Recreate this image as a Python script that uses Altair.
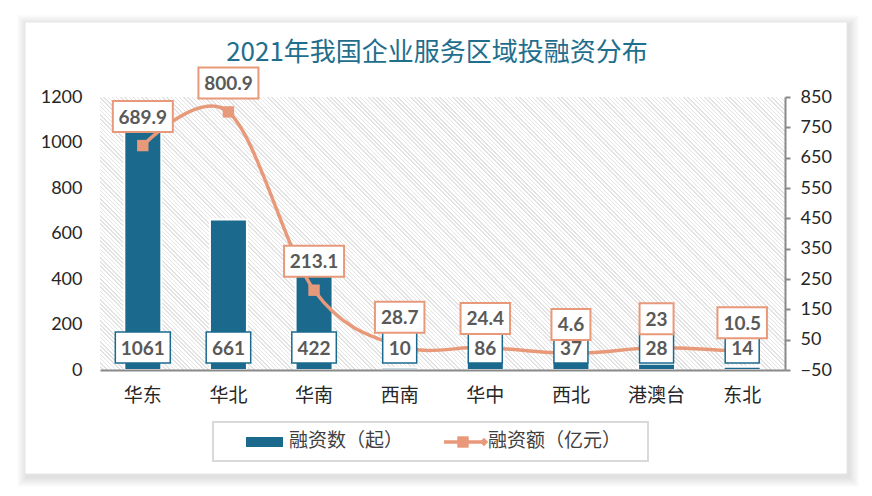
import altair as alt
import pandas as pd

# ---- data ----
regions = ["华东", "华北", "华南", "西南", "华中", "西北", "港澳台", "东北"]
deal_counts = [1061, 661, 422, 10, 86, 37, 28, 14]
deal_amounts = [689.9, 800.9, 213.1, 28.7, 24.4, 4.6, 23, 10.5]
left_ticks = [0, 200, 400, 600, 800, 1000, 1200]
right_ticks = [-50, 50, 150, 250, 350, 450, 550, 650, 750, 850]
title_text = "2021年我国企业服务区域投融资分布"
legend_bar = "融资数（起）"
legend_line = "融资额（亿元）"

BAR = "#1b6a8e"
LINE = "#e8997a"
TXT = "#595959"
W, H = 685, 273


def fmt(v):
    return f"{v:g}"


def box_shape(label, h=31):
    d = sum(ch.isdigit() for ch in label)
    dots = label.count(".")
    w = 10.5 * d + 5 * dots + 13
    return f"M{-w/2},{-h/2}L{w/2},{-h/2}L{w/2},{h/2}L{-w/2},{h/2}Z"


df = pd.DataFrame({
    "region": regions,
    "count": deal_counts,
    "amount": deal_amounts,
})
df["count_lbl"] = [str(v) for v in deal_counts]
df["amount_lbl"] = [fmt(v) for v in deal_amounts]
df["count_box"] = [box_shape(s) for s in df["count_lbl"]]
df["amount_box"] = [box_shape(s) for s in df["amount_lbl"]]

base = alt.Chart(df)
x_axis = alt.Axis(title=None, labelAngle=0, ticks=False,
                  domainColor="#898989", domainWidth=2,
                  labelFont="Noto Sans CJK SC", labelFontSize=19,
                  labelColor="#262626", labelPadding=16, zindex=1)
xenc = alt.X("region:N", sort=regions,
             scale=alt.Scale(paddingInner=0, paddingOuter=0), axis=x_axis)

# ---- decoration: card with soft shadow ----
deco = []
one = pd.DataFrame({"a": [0]})
for i in range(10, 0, -1):
    deco.append(
        alt.Chart(one).mark_rect(color="black", opacity=0.013).encode(
            x=alt.value(-75 - i + 2), x2=alt.value(747 + i + 2),
            y=alt.value(-75 - i + 3), y2=alt.value(377 + i + 3)))
deco.append(
    alt.Chart(one).mark_rect(color="white", stroke="#e6e6e6", strokeWidth=1).encode(
        x=alt.value(-75), x2=alt.value(747), y=alt.value(-75), y2=alt.value(377)))

# hatch pattern of the plot area (diagonal stripes via a striped gradient)
n = 228
stops = []
for i in range(n):
    o = i / n
    stops += [
        alt.GradientStop(offset=o, color="white"),
        alt.GradientStop(offset=o + 0.65 / n, color="white"),
        alt.GradientStop(offset=o + 0.65 / n, color="#e3e3e3"),
        alt.GradientStop(offset=min(1, o + 1.0 / n), color="#e3e3e3"),
    ]
k = (W + H) / (W * W + H * H)
hatch = alt.Chart(one).mark_rect(
    color=alt.LinearGradient(gradient="linear", stops=stops,
                             x1=0, y1=1, x2=W * k, y2=1 - H * k)
).encode(x=alt.value(0), x2=alt.value(W), y=alt.value(0), y2=alt.value(H))

# ---- bars (left axis) ----
bars = base.mark_bar(width=37, color=BAR, stroke="white", strokeWidth=2).encode(
    x=xenc,
    y=alt.Y("count:Q", scale=alt.Scale(domain=[0, 1200], nice=False),
            axis=alt.Axis(title=None, orient="left", values=left_ticks, format="d",
                          domain=False, ticks=False, grid=False,
                          labelFont="Lato", labelFontSize=18, labelColor="#262626",
                          labelPadding=18, zindex=1)),
)

# ---- line (right axis) and labels ----
yR = alt.Y("amount:Q", scale=alt.Scale(domain=[-50, 850], nice=False),
           axis=alt.Axis(title=None, orient="right", values=right_ticks, format="d",
                         domainColor="#898989", domainWidth=2,
                         tickColor="#898989", tickWidth=2, tickSize=5,
                         grid=False, labelFont="Lato", labelFontSize=18,
                         labelColor="#262626", labelPadding=10, zindex=1))

line = base.mark_line(color=LINE, strokeWidth=3.5, interpolate="cardinal").encode(x=xenc, y=yR)
pts = base.mark_point(shape="square", filled=True, color=LINE, size=130, opacity=1).encode(x=xenc, y=yR)

bar_boxes = base.mark_point(size=4, fill="white", fillOpacity=1, stroke=BAR,
                            strokeWidth=1.5, opacity=1).encode(
    x=xenc, y=alt.value(250.5), shape=alt.Shape("count_box:N", scale=None, legend=None))
bar_txt = base.mark_text(font="Lato", fontWeight="bold", fontSize=19, color=TXT,
                         baseline="middle").encode(
    x=xenc, y=alt.value(251.5), text="count_lbl:N")

line_boxes = base.mark_point(size=4, fill="white", fillOpacity=1, stroke=LINE,
                             strokeWidth=2, opacity=1, yOffset=-29).encode(
    x=xenc, y=yR, shape=alt.Shape("amount_box:N", scale=None, legend=None))
line_txt = base.mark_text(font="Lato", fontWeight="bold", fontSize=19, color=TXT,
                          baseline="middle", dy=-28).encode(
    x=xenc, y=yR, text="amount_lbl:N")

right = alt.layer(line, pts, bar_boxes, bar_txt, line_boxes, line_txt)

# ---- title ----
title = alt.Chart(one).mark_text(text=title_text, font="Noto Sans CJK SC", fontSize=26,
                                 color="#1f6e8c", align="center", baseline="middle").encode(
    x=alt.value(337), y=alt.value(-44))

# ---- legend ----
leg = [
    alt.Chart(one).mark_rect(fill="white", stroke="#d9d9d9", strokeWidth=2).encode(
        x=alt.value(113), x2=alt.value(548), y=alt.value(325), y2=alt.value(364)),
    alt.Chart(one).mark_rect(color=BAR).encode(
        x=alt.value(146), x2=alt.value(183), y=alt.value(340), y2=alt.value(350)),
    alt.Chart(one).mark_text(text=legend_bar, font="Noto Sans CJK SC", fontSize=19,
                             color="#404040", align="left", baseline="middle").encode(
        x=alt.value(189), y=alt.value(344)),
    alt.Chart(one).mark_rule(color=LINE, strokeWidth=3.5).encode(
        x=alt.value(344), x2=alt.value(384), y=alt.value(345)),
    alt.Chart(one).mark_point(shape="square", filled=True, color=LINE, size=130, opacity=1).encode(
        x=alt.value(363), y=alt.value(345)),
    alt.Chart(one).mark_point(shape="diamond", filled=True, color=LINE, size=70, opacity=1).encode(
        x=alt.value(384), y=alt.value(345)),
    alt.Chart(one).mark_text(text=legend_line, font="Noto Sans CJK SC", fontSize=19,
                             color="#404040", align="left", baseline="middle").encode(
        x=alt.value(388), y=alt.value(344)),
]

chart = alt.layer(*deco, hatch, bars, right, title, *leg).resolve_scale(
    y="independent"
).properties(
    width=W, height=H,
    autosize=alt.AutoSizeParams(type="none"),
    padding={"left": 92, "top": 89, "right": 79, "bottom": 118},
    background="white",
).configure_view(stroke=None)

chart.save("out.html", embed_options={"renderer": "svg", "actions": False})
